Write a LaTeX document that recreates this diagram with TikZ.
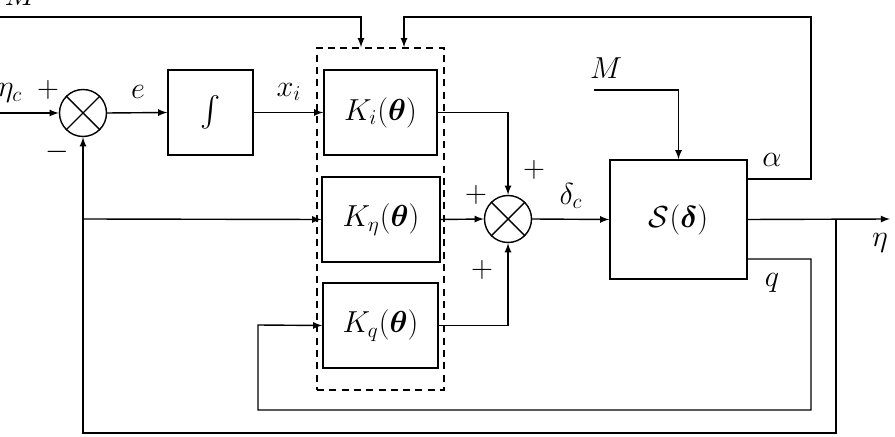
\documentclass[tikz,border=0pt]{standalone}
\usepackage{amsmath,bm}
\usepackage{tikz}

\begin{document}
\begin{tikzpicture}[x=0.2mm,y=-0.2mm,>=latex,line width=0.8pt,
		every node/.style={font=\LARGE},
		block/.style={draw,minimum height=17mm,inner sep=0pt},
		sumnode/.style={draw,circle,minimum size=9.4mm,inner sep=0pt}]
		
		\useasboundingbox (0,0) rectangle (895,437);
		
		% Summing junctions
		\node[sumnode] (s1) at (83,113) {};
		\node[sumnode] (s2) at (508,219) {};
		\foreach \s in {s1,s2}
			\draw (\s.north west) -- (\s.south east) (\s.north east) -- (\s.south west);
		
		% Integrator and gains
		\node[block,minimum width=17mm] (integ) at (210.5,112.5) {$\int$};
		\node[block,minimum width=22.6mm] (ki) at (380.5,112.5) {$K_i(\bm{\theta})$};
		\node[block,minimum width=23.6mm] (keta) at (381,219.5) {$K_\eta(\bm{\theta})$};
		\node[block,minimum width=23mm] (kq) at (380.5,325.5) {$K_q(\bm{\theta})$};
		\node[draw,dashed,dash pattern=on 4pt off 3pt,minimum width=25.4mm,minimum height=68.4mm] (kgrp) at (380.5,219) {};
		
		% Plant
		\node[draw,minimum width=27.4mm,minimum height=23.8mm] (sys) at (678.5,219.5) {$\mathcal{S}(\bm{\delta})$};
		
		% Free ends
		\coordinate (in) at (0,113);
		\coordinate (min) at (0,17);
		\coordinate (ms) at (594,90);
		\coordinate (out) at (890,219);
		\coordinate (yb) at (836,219);
		\coordinate (fb) at (836,433);
		\coordinate (ke) at (83,219);
		\coordinate (ao) at (747,179);
		\coordinate (ac) at (811,17);
		\coordinate (qo) at (747,259);
		\coordinate (qc) at (811,410);
		\coordinate (qk) at (258,325);
		
		% Forward path
		\draw[->] (in) -- (s1.west);
		\draw[->] (s1.east) -- (integ.west);
		\draw[->] (integ.east) -- (ki.west);
		\draw[->] (ki.east) -| (s2.north);
		\draw[->] (keta.east) -- (s2.west);
		\draw[->] (kq.east) -| (s2.south);
		\draw[->] (s2.east) -- (sys.west);
		\draw[->] (ms) -| (sys.north);
		\draw[->] (sys.east) -- (out);
		
		% Feedback paths
		\draw[->] (yb) -- (fb) -| (s1.south);
		\draw[->] (ke) -- (keta.west);
		\draw[->] (qo) -| (qc) -| (qk) -- (kq.west);
		\draw[->] (ao) -| (ac) -| ([xshift=4.7mm]kgrp.north);
		\draw[->] (min) -| ([xshift=-3.9mm]kgrp.north);
		
		% Labels
		\node (lec) at (10,93) {$\eta_c$};
		\node (lp1) at (48,90) {$+$};
		\node (lm) at (57,152) {$-$};
		\node (le) at (138,92) {$e$};
		\node (lxi) at (289,92) {$x_i$};
		\node (lp2) at (534,170) {$+$};
		\node (lp3) at (476,195) {$+$};
		\node (lp4) at (482,270) {$+$};
		\node (ldc) at (571,196) {$\delta_c$};
		\node (lM) at (606,68) {$M$};
		\node[anchor=base west] (lMt) at (-2,6) {$M$};
		\node (la) at (772,160) {$\alpha$};
		\node (lq) at (772,283) {$q$};
		\node (leta) at (880,243) {$\eta$};
		
	\end{tikzpicture}
\end{document}
